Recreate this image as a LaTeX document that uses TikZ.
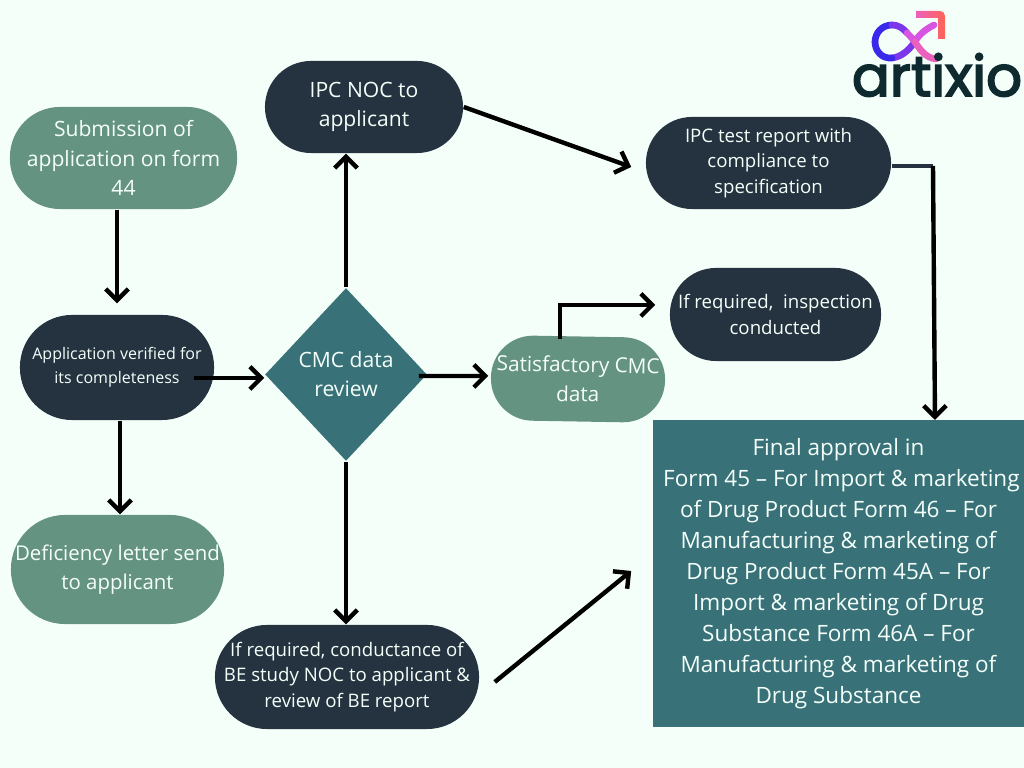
\documentclass[tikz,border=0pt]{standalone}
\usepackage{fontspec}
\setmainfont{Open Sans}
\newfontfamily\logofont[FakeBold=3]{Poppins}
\usepackage{tikz}
\usetikzlibrary{arrows.meta, shapes.geometric}
\definecolor{paper}{RGB}{245, 255, 250}
\definecolor{dark}{RGB}{36, 51, 63}
\definecolor{teal}{RGB}{56, 113, 120}
\definecolor{sage}{RGB}{101, 147, 129}
\definecolor{logoink}{RGB}{14, 42, 46}
\definecolor{logohot}{RGB}{255, 100, 85}
\definecolor{logopink}{RGB}{236, 96, 190}
\definecolor{logomag}{RGB}{215, 85, 225}
\definecolor{logoviolet}{RGB}{125, 55, 235}
\definecolor{logoblue}{RGB}{58, 40, 235}
\tikzset{
  pill/.style={rounded corners=#1, inner sep=0, align=center, text=paper},
  darkpill/.style={pill=#1, fill=dark},
  sagepill/.style={pill=#1, fill=sage},
  flow/.style={-{Straight Barb[length=3.2pt, width=6.4pt]}, line width=1.25pt, black},
  loopseg/.style={line width=1.9pt, line cap=round}
}
\newcommand{\bodyfont}{\fontsize{6.0}{8.3}\selectfont}
\newcommand{\smallfont}{\fontsize{5.3}{7.3}\selectfont}

\begin{document}
\begin{tikzpicture}[x=0.01cm, y=-0.01cm]

  \fill[paper] (0, 0) rectangle (1024, 768);
  \useasboundingbox (0, 0) rectangle (1024, 768);

  \node[sagepill=0.5cm, minimum width=2.27cm, minimum height=1.02cm, font=\bodyfont] (submission) at (123.5, 158)
  { Submission of\\application on form\\44 };
  \node[darkpill=0.52cm, minimum width=1.94cm, minimum height=1.05cm, font=\fontsize{4.55}{6.9}\selectfont] (verified) at (117, 367.5)
  { Application verified for\\its completeness };
  \node[sagepill=0.54cm, minimum width=2.13cm, minimum height=1.09cm, font=\fontsize{5.8}{8.3}\selectfont] (deficiency) at (117.5, 569.5)
  { Deficiency letter send\\to applicant };
  \node[diamond, fill=teal, text=paper, inner sep=0, align=center, minimum width=1.62cm, minimum height=1.73cm, font=\bodyfont] (cmc) at (346, 374.5)
  { CMC data\\review };
  \node[darkpill=0.46cm, minimum width=1.98cm, minimum height=0.92cm, font=\bodyfont] (ipcnoc) at (364, 107)
  { IPC NOC to\\applicant };
  \node[darkpill=0.46cm, minimum width=2.45cm, minimum height=0.92cm, font=\smallfont] (ipctest) at (768.5, 163)
  { IPC test report with\\compliance to\\specification };
  \node[darkpill=0.46cm, minimum width=2.11cm, minimum height=0.93cm, font=\smallfont] (inspection) at (775.5, 314.5)
  { If required,~ inspection\\conducted };
  \node[sagepill=0.42cm, rotate=-1, minimum width=1.74cm, minimum height=0.85cm, font=\fontsize{5.9}{8.3}\selectfont] (satisfactory) at (578, 379)
  { Satisfactory CMC\\data };
  \node[darkpill=0.52cm, minimum width=2.64cm, minimum height=1.04cm, font=\smallfont] (bestudy) at (347, 677)
  { If required, conductance of\\BE study NOC to applicant \&\\review of BE report };
  \node[fill=teal, text=paper, inner sep=0, align=center, minimum width=3.71cm, minimum height=3.07cm, font=\fontsize{6.4}{8.82}\selectfont] (final) at (838.5, 573.5)
  { Final approval in\\
    ~Form 45 – For Import \& marketing\\
    of Drug Product Form 46 – For\\
    Manufacturing \& marketing of\\
    Drug Product Form 45A – For\\
    Import \& marketing of Drug\\
    Substance Form 46A – For\\
    Manufacturing \& marketing of\\
    Drug Substance };

  \coordinate (testbend) at (933, 166);
  \coordinate (testend) at (935, 420);
  \coordinate (satbend) at (560, 305);

  \draw[flow] (verified.north |- submission.south) -- ([shift={(0, -11)}]verified.north);
  \draw[flow] ([shift={(-21, 10.5)}]verified.east) -- ([shift={(0, 3.5)}]cmc.west);
  \draw[flow] ([shift={(3, 0)}]verified.south) -- ([shift={(2.5, 0)}]deficiency.north);
  \draw[flow] (cmc.north) -- (cmc.north |- ipcnoc.south);
  \draw[flow] (cmc.south) -- (cmc.south |- bestudy.north);
  \draw[flow] ([shift={(-9, 1.5)}]cmc.east) -- ([shift={(-2, -1.5)}]satisfactory.west);
  \draw[flow] (ipcnoc.east) -- ([shift={(-14, 4)}]ipctest.west);
  \draw[dark, line width=1.25pt] ([shift={(0, 3)}]ipctest.east) -- (testbend);
  \draw[flow] (testbend) -- (testend);
  \draw[flow] ([shift={(0, 3)}]satbend |- satisfactory.north) -- (satbend) -- ([shift={(-14, -9.5)}]inspection.west);
  \draw[flow] ([shift={(15, 5)}]bestudy.east) -- ([shift={(-21, -2.5)}]final.west);

  % logo
  \shade[left color=logopink, right color=logohot] (916, 11) -- (940, 11) arc[start angle=90, end angle=0, x radius=5, y radius=-5]
  -- (945, 39) -- (938, 39) -- (938, 18) -- (916, 18) -- cycle;
  \foreach \a/\b/\c/\d/\e/\f/\g/\h/\tint in {
    934/25/924/30/918/36/914/43/logomag,
    914/43/908/51/901/57/892/58/logoviolet,
    892/58/881/59/875/50/875/42/logoblue,
    875/42/875/33/882/25/892/25/logoblue,
    892/25/898/25/903/28/907/33/logoviolet,
    907/33/911/37/913/39/915/42/logomag,
    915/42/919/48/925/58/936/59/logopink}
  {
    \draw[loopseg, \tint] (\a, \b) .. controls (\c, \d) and (\e, \f) .. (\g, \h);
  }

  \node[text=logoink, inner sep=0, font=\logofont\fontsize{16}{16}\selectfont] (wordmark) at (937, 75) { artixio };

\end{tikzpicture}
\end{document}
